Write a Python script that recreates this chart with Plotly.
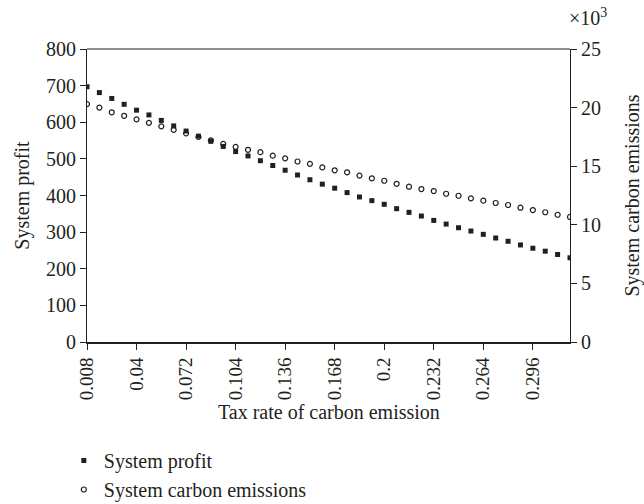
import plotly.graph_objects as go

# Carbon tax rates (step 0.008)
tax_rate = [round(0.008 * (i + 1), 3) for i in range(40)]

# System profit (left axis)
system_profit = [697, 681, 665, 649, 633, 620, 605, 590, 576, 562,
                 548, 534, 520, 508, 495, 482, 469, 456, 443, 431,
                 420, 408, 396, 386, 376, 364, 354, 344, 332, 322,
                 312, 303, 294, 284, 275, 265, 256, 248, 239, 230]

# System carbon emissions, in units of 10^3 (right axis)
carbon_emissions = [20.3, 20.0, 19.6, 19.3, 19.0, 18.7, 18.4, 18.1, 17.8, 17.5,
                    17.2, 16.9, 16.65, 16.4, 16.2, 15.9, 15.67, 15.4, 15.2, 14.9,
                    14.65, 14.48, 14.2, 13.97, 13.76, 13.5, 13.25, 13.05, 12.88, 12.65,
                    12.48, 12.26, 12.06, 11.86, 11.69, 11.46, 11.26, 11.07, 10.86, 10.67]

x_ticks = [0.008, 0.04, 0.072, 0.104, 0.136, 0.168, 0.2, 0.232, 0.264, 0.296]
x_tick_text = ["0.008", "0.04", "0.072", "0.104", "0.136", "0.168", "0.2", "0.232", "0.264", "0.296"]

FONT = "Liberation Serif, Times New Roman, serif"
INK = "#231f20"

fig = go.Figure()
fig.add_trace(go.Scatter(
    x=tax_rate, y=system_profit, mode="markers", name="System profit",
    marker=dict(symbol="square", size=5, color=INK, line=dict(width=0)),
    yaxis="y",
))
fig.add_trace(go.Scatter(
    x=tax_rate, y=carbon_emissions, mode="markers", name="System carbon emissions",
    marker=dict(symbol="circle-open", size=5, color=INK, line=dict(width=1.2)),
    yaxis="y2",
))

axis_font = dict(family=FONT, size=20, color=INK)
tick_font = dict(family=FONT, size=19, color=INK)

# plot area spans pixel rows 49..342; the space below holds ticks, title and legend
fig.update_layout(
    width=644, height=504,
    margin=dict(l=87, r=74, t=49, b=0, autoexpand=False),
    paper_bgcolor="white", plot_bgcolor="white",
    font=axis_font,
    showlegend=True,
    legend=dict(
        x=-0.048, y=-0.011, xanchor="left", yanchor="bottom",
        orientation="v", font=dict(family=FONT, size=20, color=INK),
        itemsizing="trace", tracegroupgap=0, bgcolor="rgba(0,0,0,0)",
        itemwidth=30,
    ),
    xaxis=dict(
        range=[0.008, 0.32], tickmode="array", tickvals=x_ticks, ticktext=x_tick_text,
        tickangle=-90, ticks="outside", ticklen=6, tickwidth=1, tickcolor=INK,
        showline=True, linecolor=INK, linewidth=2, showgrid=False, zeroline=False,
        tickfont=tick_font, anchor="y", automargin=False,
    ),
    yaxis=dict(
        domain=[0.356, 1.0],
        range=[0, 800], tickvals=[0, 100, 200, 300, 400, 500, 600, 700, 800],
        ticks="outside", ticklen=6, tickwidth=1, tickcolor=INK,
        showline=True, linecolor=INK, linewidth=1, showgrid=False, zeroline=False,
        title=dict(text="System profit", font=axis_font, standoff=10),
        tickfont=axis_font,
    ),
    yaxis2=dict(
        range=[0, 25], tickvals=[0, 5, 10, 15, 20, 25], overlaying="y", side="right",
        ticks="outside", ticklen=6, tickwidth=1, tickcolor=INK,
        showline=True, linecolor=INK, linewidth=1, showgrid=False, zeroline=False,
        title=dict(text="System carbon emissions", font=axis_font, standoff=25),
        tickfont=axis_font,
    ),
    shapes=[dict(type="line", xref="paper", yref="paper", x0=0, x1=1, y0=1, y1=1,
                 line=dict(color=INK, width=1))],
    annotations=[
        dict(text="×10<sup>3</sup>", xref="paper", yref="paper",
             x=0.994, y=1.04, xanchor="left", yanchor="bottom",
             showarrow=False, font=dict(family=FONT, size=20, color=INK)),
        dict(text="Tax rate of carbon emission", xref="paper", yref="paper",
             x=0.5, y=0.2022, xanchor="center", yanchor="middle",
             showarrow=False, font=axis_font),
    ],
)

fig.write_html("out.html")
